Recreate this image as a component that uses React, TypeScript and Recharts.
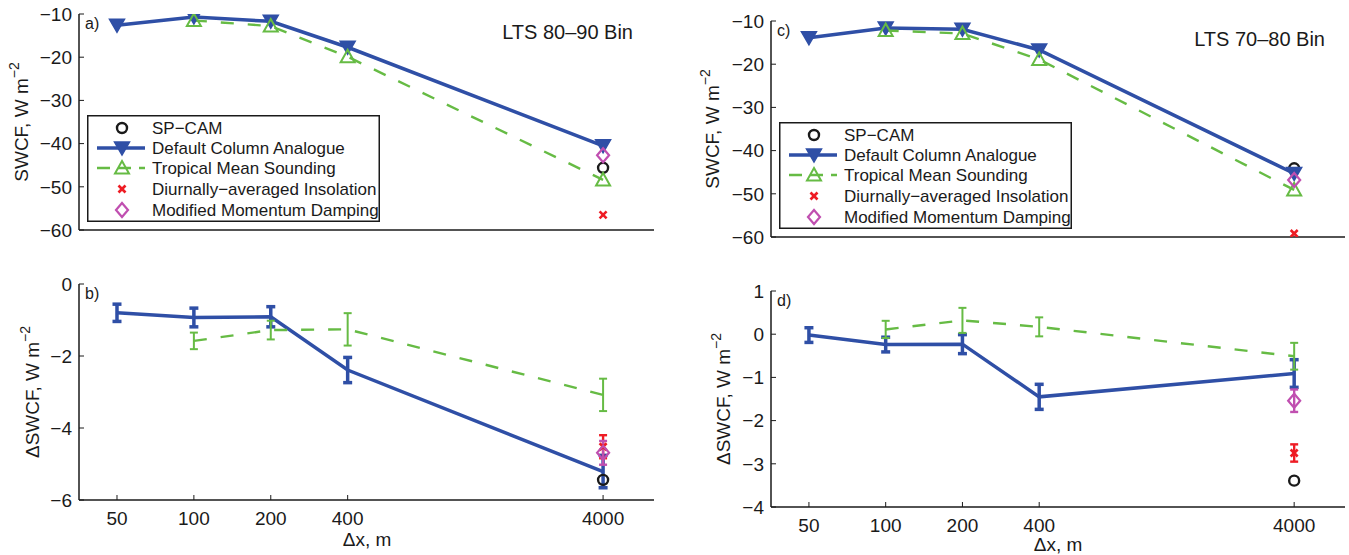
import React from "react";
import { ComposedChart, Line, XAxis, YAxis, ErrorBar, Legend } from "recharts";

const FONT = '"Liberation Sans", Arial, Helvetica, sans-serif';
const BLUE = "#2f4fa6";
const GREEN = "#66bb44";
const RED = "#ee1c24";
const MAGENTA = "#c04fb0";
const INK = "#1a1a1a";
const DASH = "13 14";

const DX = [50, 100, 200, 400, 4000];
const X_TICKS = [50, 100, 200, 400, 4000];
const X_DOMAIN = [35.5, 6330];

const SWCF_TICKS = [-60, -50, -40, -30, -20, -10];
const B_TICKS = [-6, -4, -2, 0];
const D_TICKS = [-4, -3, -2, -1, 0, 1];

// a) LTS 80-90 bin, SWCF
const A_SPCAM = [null, null, null, null, -45.6];
const A_DEFAULT = [-12.6, -10.7, -11.7, -17.7, -40.5];
const A_TROPICAL = [null, -11.5, -12.8, -19.9, -48.4];
const A_DIURNAL = [null, null, null, null, -56.5];
const A_MOMENTUM = [null, null, null, null, -42.7];

// b) LTS 80-90 bin, delta SWCF (+ error)
const B_SPCAM = [null, null, null, null, -5.44];
const B_DEFAULT = [-0.8, -0.93, -0.91, -2.39, -5.21];
const B_DEFAULT_ERR = [0.24, 0.26, 0.28, 0.35, 0.45];
const B_TROPICAL = [null, -1.58, -1.28, -1.26, -3.08];
const B_TROPICAL_ERR = [null, 0.23, 0.26, 0.45, 0.45];
const B_DIURNAL = [null, null, null, null, -4.52];
const B_DIURNAL_ERR = [null, null, null, null, 0.32];
const B_MOMENTUM = [null, null, null, null, -4.69];
const B_MOMENTUM_ERR = [null, null, null, null, 0.33];

// c) LTS 70-80 bin, SWCF
const C_SPCAM = [null, null, null, null, -44.1];
const C_DEFAULT = [-13.9, -11.6, -11.9, -16.7, -45.3];
const C_TROPICAL = [null, -12.2, -12.9, -18.9, -49.1];
const C_DIURNAL = [null, null, null, null, -59.2];
const C_MOMENTUM = [null, null, null, null, -46.8];

// d) LTS 70-80 bin, delta SWCF (+ error)
const D_SPCAM = [null, null, null, null, -3.39];
const D_DEFAULT = [-0.02, -0.24, -0.23, -1.45, -0.91];
const D_DEFAULT_ERR = [0.17, 0.17, 0.22, 0.29, 0.32];
const D_TROPICAL = [null, 0.11, 0.32, 0.17, -0.51];
const D_TROPICAL_ERR = [null, 0.2, 0.29, 0.22, 0.31];
const D_DIURNAL = [null, null, null, null, -2.75];
const D_DIURNAL_ERR = [null, null, null, null, 0.2];
const D_MOMENTUM = [null, null, null, null, -1.54];
const D_MOMENTUM_ERR = [null, null, null, null, 0.26];

const LEGEND_LABELS = [
  "SP\u2212CAM",
  "Default Column Analogue",
  "Tropical Mean Sounding",
  "Diurnally\u2212averaged Insolation",
  "Modified Momentum Damping",
];

type Pt = { x: number; y: number; e?: number | null };

function series(vals: (number | null)[], errs?: (number | null)[]): Pt[] {
  return DX.map((x, i) => ({ x, y: vals[i] as number, e: errs ? errs[i] : null })).filter(
    (r) => r.y != null
  );
}

const fmtTick = (v: number) => (v < 0 ? `\u2212${Math.abs(v)}` : `${v}`);

function Marker({ shape, cx, cy }: { shape: string; cx: number; cy: number }) {
  switch (shape) {
    case "tridown":
      return (
        <path
          d={`M${cx - 7.5},${cy - 6} L${cx + 7.5},${cy - 6} L${cx},${cy + 7} Z`}
          fill={BLUE}
          stroke={BLUE}
          strokeWidth={1.5}
        />
      );
    case "triup":
      return (
        <path
          d={`M${cx},${cy - 7} L${cx + 7},${cy + 5.5} L${cx - 7},${cy + 5.5} Z`}
          fill="none"
          stroke={GREEN}
          strokeWidth={2}
        />
      );
    case "circle":
      return <circle cx={cx} cy={cy} r={5} fill="none" stroke={INK} strokeWidth={2.4} />;
    case "x":
      return (
        <g stroke={RED} strokeWidth={2.6}>
          <line x1={cx - 3.5} y1={cy - 3.5} x2={cx + 3.5} y2={cy + 3.5} />
          <line x1={cx - 3.5} y1={cy + 3.5} x2={cx + 3.5} y2={cy - 3.5} />
        </g>
      );
    case "diamond":
      return (
        <path
          d={`M${cx},${cy - 7} L${cx + 6},${cy} L${cx},${cy + 7} L${cx - 6},${cy} Z`}
          fill="none"
          stroke={MAGENTA}
          strokeWidth={2.2}
        />
      );
    default:
      return null;
  }
}

const dotOf = (shape: string) => (p: any) => {
  const k = `${shape}-${p.index}`;
  if (p.cy == null || Number.isNaN(p.cy)) return <g key={k} />;
  return (
    <g key={k}>
      <Marker shape={shape} cx={p.cx} cy={p.cy} />
    </g>
  );
};

function LegendBox() {
  const w = 293;
  const h = 107;
  const rowY = [13, 33, 53, 74, 95];
  return (
    <svg width={w} height={h} style={{ display: "block", background: "#fff" }}>
      <rect x={0.75} y={0.75} width={w - 1.5} height={h - 1.5} fill="#fff" stroke={INK} strokeWidth={1.5} />
      <Marker shape="circle" cx={35} cy={rowY[0]} />
      <line x1={10} y1={rowY[1]} x2={58} y2={rowY[1]} stroke={BLUE} strokeWidth={3.5} />
      <Marker shape="tridown" cx={35} cy={rowY[1]} />
      <line x1={10} y1={rowY[2]} x2={58} y2={rowY[2]} stroke={GREEN} strokeWidth={2.4} strokeDasharray="13 8" />
      <Marker shape="triup" cx={35} cy={rowY[2]} />
      <Marker shape="x" cx={35} cy={rowY[3]} />
      <Marker shape="diamond" cx={35} cy={rowY[4]} />
      {LEGEND_LABELS.map((t, i) => (
        <text key={t} x={65} y={rowY[i] + 6} fontSize={17} fontFamily={FONT} fill={INK}>
          {t}
        </text>
      ))}
    </svg>
  );
}

type PanelSeries = {
  spcam: Pt[];
  def: Pt[];
  trop: Pt[];
  diur: Pt[];
  mom: Pt[];
};

type PanelProps = {
  s: PanelSeries;
  left: number;
  top: number;
  width: number;
  height: number;
  mTop: number;
  mRight: number;
  yAxisWidth: number;
  xAxisHeight: number;
  yDomain: [number, number];
  yTicks: number[];
  showXLabels: boolean;
  markers: boolean;
  legendAt?: { left: number; top: number };
};

function Panel(p: PanelProps) {
  const { s } = p;
  const errs = !p.markers;
  return (
    <div style={{ position: "absolute", left: p.left, top: p.top }}>
      <ComposedChart
        width={p.width}
        height={p.height}
        margin={{ top: p.mTop, right: p.mRight, bottom: 0, left: 0 }}
      >
        <XAxis
          xAxisId="b"
          type="number"
          dataKey="x"
          scale="log"
          domain={X_DOMAIN}
          allowDataOverflow
          ticks={X_TICKS}
          height={p.xAxisHeight}
          tickSize={-5}
          tickMargin={17}
          tick={p.showXLabels ? { fontSize: 19, fill: INK, fontFamily: FONT } : false}
          axisLine={{ stroke: INK, strokeWidth: 1.5 }}
          tickLine={{ stroke: INK }}
        />
        <XAxis
          xAxisId="t"
          orientation="top"
          type="number"
          dataKey="x"
          scale="log"
          domain={X_DOMAIN}
          allowDataOverflow
          ticks={X_TICKS}
          height={0}
          tickSize={-5}
          tick={false}
          axisLine={{ stroke: INK, strokeWidth: 1.5 }}
          tickLine={{ stroke: INK }}
        />
        <YAxis
          yAxisId="l"
          type="number"
          domain={p.yDomain}
          allowDataOverflow
          ticks={p.yTicks}
          width={p.yAxisWidth}
          tickSize={-5}
          tickMargin={12}
          tickFormatter={fmtTick}
          tick={{ fontSize: 19, fill: INK, fontFamily: FONT }}
          axisLine={{ stroke: INK, strokeWidth: 1.5 }}
          tickLine={{ stroke: INK }}
        />
        <YAxis
          yAxisId="r"
          orientation="right"
          type="number"
          domain={p.yDomain}
          allowDataOverflow
          ticks={p.yTicks}
          width={0}
          tickSize={-5}
          tick={false}
          axisLine={{ stroke: INK, strokeWidth: 1.5 }}
          tickLine={{ stroke: INK }}
        />
        <Line
          xAxisId="b"
          yAxisId="l"
          data={s.spcam}
          dataKey="y"
          stroke="none"
          dot={dotOf("circle")}
          activeDot={false}
          isAnimationActive={false}
        />
        <Line
          xAxisId="b"
          yAxisId="l"
          data={s.def}
          dataKey="y"
          stroke={BLUE}
          strokeWidth={3.5}
          dot={p.markers ? dotOf("tridown") : false}
          activeDot={false}
          isAnimationActive={false}
        >
          {errs && (
            <ErrorBar dataKey="e" direction="y" width={4.5} strokeWidth={3.5} stroke={BLUE} isAnimationActive={false} />
          )}
        </Line>
        <Line
          xAxisId="b"
          yAxisId="l"
          data={s.trop}
          dataKey="y"
          stroke={GREEN}
          strokeWidth={2.4}
          strokeDasharray={DASH}
          dot={p.markers ? dotOf("triup") : false}
          activeDot={false}
          isAnimationActive={false}
        >
          {errs && (
            <ErrorBar dataKey="e" direction="y" width={4} strokeWidth={2} stroke={GREEN} isAnimationActive={false} />
          )}
        </Line>
        <Line
          xAxisId="b"
          yAxisId="l"
          data={s.diur}
          dataKey="y"
          stroke="none"
          dot={dotOf("x")}
          activeDot={false}
          isAnimationActive={false}
        >
          {errs && (
            <ErrorBar dataKey="e" direction="y" width={4} strokeWidth={2.4} stroke={RED} isAnimationActive={false} />
          )}
        </Line>
        <Line
          xAxisId="b"
          yAxisId="l"
          data={s.mom}
          dataKey="y"
          stroke="none"
          dot={dotOf("diamond")}
          activeDot={false}
          isAnimationActive={false}
        >
          {errs && (
            <ErrorBar dataKey="e" direction="y" width={4} strokeWidth={2.4} stroke={MAGENTA} isAnimationActive={false} />
          )}
        </Line>
        {p.legendAt && (
          <Legend
            layout="vertical"
            align="center"
            verticalAlign="middle"
            width={293}
            height={107}
            wrapperStyle={{ left: p.legendAt.left, top: p.legendAt.top, width: 293, height: 107 }}
            content={() => <LegendBox />}
          />
        )}
      </ComposedChart>
    </div>
  );
}

function YTitle({ x, y, delta }: { x: number; y: number; delta?: boolean }) {
  return (
    <text
      x={x}
      y={y}
      transform={`rotate(-90, ${x}, ${y})`}
      textAnchor="middle"
      fontSize={19}
      fontFamily={FONT}
      fill={INK}
    >
      {delta ? "\u0394SWCF, W m" : "SWCF, W m"}
      <tspan dy={-9} fontSize={14}>
        {"\u22122"}
      </tspan>
    </text>
  );
}

export default function App() {
  const a: PanelSeries = {
    spcam: series(A_SPCAM),
    def: series(A_DEFAULT),
    trop: series(A_TROPICAL),
    diur: series(A_DIURNAL),
    mom: series(A_MOMENTUM),
  };
  const b: PanelSeries = {
    spcam: series(B_SPCAM),
    def: series(B_DEFAULT, B_DEFAULT_ERR),
    trop: series(B_TROPICAL, B_TROPICAL_ERR),
    diur: series(B_DIURNAL, B_DIURNAL_ERR),
    mom: series(B_MOMENTUM, B_MOMENTUM_ERR),
  };
  const c: PanelSeries = {
    spcam: series(C_SPCAM),
    def: series(C_DEFAULT),
    trop: series(C_TROPICAL),
    diur: series(C_DIURNAL),
    mom: series(C_MOMENTUM),
  };
  const d: PanelSeries = {
    spcam: series(D_SPCAM),
    def: series(D_DEFAULT, D_DEFAULT_ERR),
    trop: series(D_TROPICAL, D_TROPICAL_ERR),
    diur: series(D_DIURNAL, D_DIURNAL_ERR),
    mom: series(D_MOMENTUM, D_MOMENTUM_ERR),
  };

  const txt = { fontFamily: FONT, fill: INK };

  return (
    <div
      style={{
        position: "absolute",
        left: 0,
        top: 0,
        width: 1349,
        height: 555,
        background: "#fff",
        overflow: "hidden",
      }}
    >
      <Panel
        s={a}
        left={0}
        top={0}
        width={680}
        height={270}
        mTop={14}
        mRight={26}
        yAxisWidth={79}
        xAxisHeight={40}
        yDomain={[-60, -10]}
        yTicks={SWCF_TICKS}
        showXLabels={false}
        markers
        legendAt={{ left: 87, top: 115 }}
      />
      <Panel
        s={b}
        left={0}
        top={270}
        width={680}
        height={285}
        mTop={14}
        mRight={26}
        yAxisWidth={79}
        xAxisHeight={55}
        yDomain={[-6, 0]}
        yTicks={B_TICKS}
        showXLabels
        markers={false}
      />
      <Panel
        s={c}
        left={680}
        top={0}
        width={669}
        height={270}
        mTop={21}
        mRight={4}
        yAxisWidth={91}
        xAxisHeight={33}
        yDomain={[-60, -10]}
        yTicks={SWCF_TICKS}
        showXLabels={false}
        markers
        legendAt={{ left: 99, top: 122 }}
      />
      <Panel
        s={d}
        left={680}
        top={270}
        width={669}
        height={285}
        mTop={21}
        mRight={4}
        yAxisWidth={91}
        xAxisHeight={48}
        yDomain={[-4, 1]}
        yTicks={D_TICKS}
        showXLabels
        markers={false}
      />
      <svg
        width={1349}
        height={555}
        style={{ position: "absolute", left: 0, top: 0, pointerEvents: "none" }}
      >
        <text x={85} y={29} fontSize={16} {...txt}>a)</text>
        <text x={85} y={299} fontSize={16} {...txt}>b)</text>
        <text x={777} y={36} fontSize={16} {...txt}>c)</text>
        <text x={777} y={306} fontSize={16} {...txt}>d)</text>
        <text x={633} y={39} fontSize={20} textAnchor="end" {...txt}>
          LTS 80{"\u2013"}90 Bin
        </text>
        <text x={1325} y={46} fontSize={20} textAnchor="end" {...txt}>
          LTS 70{"\u2013"}80 Bin
        </text>
        <YTitle x={28} y={122} />
        <YTitle x={39} y={392} delta />
        <YTitle x={719} y={129} />
        <YTitle x={730} y={399} delta />
        <text x={367} y={546} fontSize={19} textAnchor="middle" {...txt}>
          {"\u0394x, m"}
        </text>
        <text x={1058} y={551} fontSize={19} textAnchor="middle" {...txt}>
          {"\u0394x, m"}
        </text>
      </svg>
    </div>
  );
}
